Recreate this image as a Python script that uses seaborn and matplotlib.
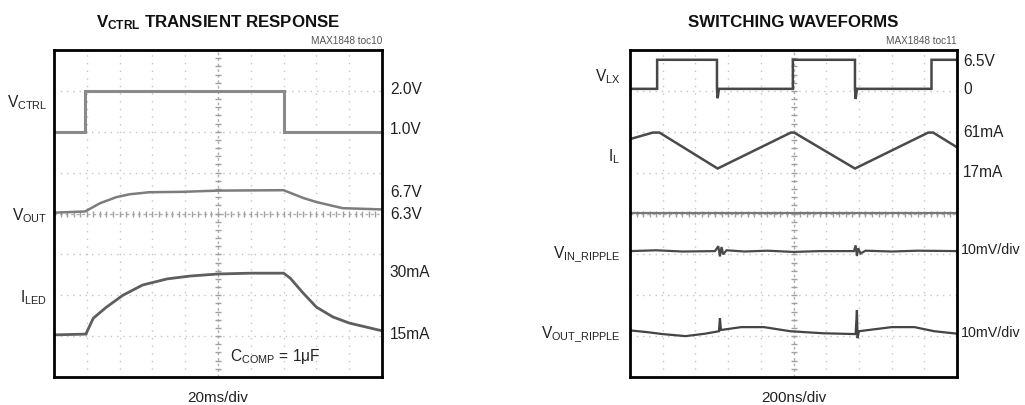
import numpy as np
import matplotlib
matplotlib.use("Agg")
import matplotlib.pyplot as plt
from matplotlib import font_manager
import seaborn as sns
import pandas as pd

# ---------------- data (in scope divisions: x 0..10, y 0..8) ----------------
# Left: VCTRL transient response
vctrl_t = [0, 0.95, 0.95, 7.0, 7.0, 10]
vctrl_v = [6.0, 6.0, 7.0, 7.0, 6.0, 6.0]

vout_t = [0, 0.95, 1.4, 1.9, 2.3, 2.9, 3.9, 5.0, 7.0, 7.6, 8.0, 8.8, 10]
vout_v = [4.02, 4.05, 4.25, 4.40, 4.47, 4.52, 4.53, 4.56, 4.57, 4.38, 4.28, 4.13, 4.10]

iled_t = [0, 0.98, 1.0, 1.2, 1.6, 2.1, 2.7, 3.45, 4.15, 5.0, 6.0, 7.0, 7.2, 7.6, 8.0, 8.5, 9.0, 10]
iled_v = [1.03, 1.05, 1.10, 1.44, 1.71, 2.00, 2.25, 2.40, 2.47, 2.52, 2.54, 2.54, 2.42, 2.05, 1.71, 1.47, 1.32, 1.13]

left_levels = [7.04, 6.06, 4.52, 3.98, 2.56, 1.03]
left_level_labels = ["2.0V", "1.0V", "6.7V", "6.3V", "30mA", "15mA"]

# Right: switching waveforms
vlx_t = [0, 0.83, 0.83, 2.66, 2.66, 2.68, 2.72, 4.98, 4.98, 6.88, 6.88, 6.90, 6.94, 9.22, 9.22, 10]
vlx_v = [7.05, 7.05, 7.76, 7.76, 7.05, 6.82, 7.05, 7.05, 7.76, 7.76, 7.05, 6.80, 7.05, 7.05, 7.76, 7.76]

il_t = [0, 0.7, 0.9, 2.68, 4.92, 5.02, 6.88, 9.12, 9.27, 10]
il_v = [5.82, 5.98, 5.98, 5.10, 5.98, 5.98, 5.10, 5.98, 5.98, 5.62]

ref_t = [0, 10]
ref_v = [4.02, 4.02]

vin_t = [0, 0.8, 1.6, 2.6, 2.7, 2.75, 2.8, 2.85, 2.95, 3.5, 4.2, 5.0, 5.8,
         6.85, 6.9, 6.94, 6.98, 7.05, 7.2, 8.0, 8.8, 10]
vin_v = [3.08, 3.10, 3.07, 3.08, 3.20, 2.95, 3.18, 3.00, 3.10, 3.07, 3.09, 3.06, 3.08,
         3.08, 3.22, 2.96, 3.15, 3.02, 3.09, 3.07, 3.09, 3.08]

voutr_t = [0, 0.5, 1.0, 1.7, 2.3, 2.72, 2.75, 2.78, 3.4, 4.1, 4.9, 5.9,
           6.9, 6.94, 6.96, 7.0, 8.0, 8.7, 9.3, 10]
voutr_v = [1.14, 1.10, 1.05, 1.00, 1.06, 1.12, 1.44, 1.15, 1.22, 1.22, 1.12, 1.07,
           1.05, 1.64, 0.95, 1.12, 1.22, 1.22, 1.12, 1.06]

right_levels = [7.72, 7.04, 5.97, 5.00, 3.10, 1.08]
right_level_labels = ["6.5V", "0", "61mA", "17mA", "10mV/div", "10mV/div"]

# ---------------- style ----------------
sns.set_theme(style="white")
names = {f.name for f in font_manager.fontManager.ttflist}
FAM = "Liberation Sans Narrow" if "Liberation Sans Narrow" in names else "Liberation Sans"
plt.rcParams["font.family"] = [FAM, "DejaVu Sans"]
plt.rcParams["mathtext.fontset"] = "custom"
plt.rcParams["mathtext.rm"] = FAM
plt.rcParams["mathtext.bf"] = FAM + ":bold"
plt.rcParams["mathtext.it"] = FAM + ":italic"

fig = plt.figure(figsize=(10.25, 4.05), dpi=100)
axL = fig.add_axes([54 / 1025, 28 / 405, 328 / 1025, 327 / 405])
axR = fig.add_axes([630 / 1025, 28 / 405, 327 / 1025, 327 / 405])

FS = 11.2
TC = "#222222"


def scope_frame(ax):
    ax.set_xlim(0, 10)
    ax.set_ylim(0, 8)
    ax.set_xticks([])
    ax.set_yticks([])
    for s in ax.spines.values():
        s.set_color("black")
        s.set_linewidth(2.0)
    for x in range(1, 10):
        if x == 5:
            continue
        ax.axvline(x, color="#c4c4c4", lw=1.0, ls=(0, (1, 4.5)), zorder=0)
    for y in range(1, 8):
        if y == 4:
            continue
        ax.axhline(y, color="#c4c4c4", lw=1.0, ls=(0, (1, 3.5)), zorder=0)
    # centre crosshair with minor ticks
    ax.axvline(5, color="#b0b0b0", lw=1.0, ls=(0, (2, 2)), zorder=0)
    ax.axhline(4, color="#b0b0b0", lw=1.0, ls=(0, (2, 2)), zorder=0)
    ys = np.arange(0.2, 8, 0.2)
    xs = np.arange(0.2, 10, 0.2)
    ax.scatter(np.full(ys.size, 5.0), ys, marker="_", s=14, color="#a0a0a0", lw=1, zorder=0)
    ax.scatter(xs, np.full(xs.size, 4.0), marker="|", s=14, color="#a0a0a0", lw=1, zorder=0)


def trace(ax, t, v, color, lw=1.8):
    df = pd.DataFrame({"t": t, "v": v})
    sns.lineplot(data=df, x="t", y="v", ax=ax, estimator=None, sort=False,
                 color=color, lw=lw, solid_joinstyle="miter")
    ax.set_xlabel("")
    ax.set_ylabel("")


# ---------------- left panel ----------------
scope_frame(axL)
trace(axL, vctrl_t, vctrl_v, "#8a8a8a", 2.2)
trace(axL, vout_t, vout_v, "#7c7c7c", 1.8)
trace(axL, iled_t, iled_v, "#5e5e5e", 2.0)
axL.set_xlim(0, 10)
axL.set_ylim(0, 8)

trL = axL.get_yaxis_transform()
for y, lab in zip(left_levels, left_level_labels):
    axL.text(1.024, y, lab, transform=trL, ha="left", va="center", fontsize=FS, color=TC)
axL.text(-0.021, 6.7, r"V$_{\mathrm{CTRL}}$", transform=trL, ha="right", va="center", fontsize=FS, color=TC)
axL.text(-0.021, 3.95, r"V$_{\mathrm{OUT}}$", transform=trL, ha="right", va="center", fontsize=FS, color=TC)
axL.text(-0.021, 1.95, r"I$_{\mathrm{LED}}$", transform=trL, ha="right", va="center", fontsize=FS, color=TC)
axL.text(5.37, 0.5, r"C$_{\mathrm{COMP}}$ = 1$\mathrm{\mu}$F", ha="left", va="center", fontsize=FS, color=TC)
axL.text(0.5, -0.064, "20ms/div", transform=axL.transAxes, ha="center", va="center", fontsize=11, color=TC)
axL.text(0.5, 1.083, r"V$_{\mathbf{CTRL}}$ TRANSIENT RESPONSE", transform=axL.transAxes,
         ha="center", va="center", fontsize=12.2, fontweight="bold", color="#111111")
axL.text(1.0, 1.028, "MAX1848 toc10", transform=axL.transAxes, ha="right", va="center",
         fontsize=7.2, color="#555555")

# ---------------- right panel ----------------
scope_frame(axR)
trace(axR, ref_t, ref_v, "#777777", 1.6)
trace(axR, vlx_t, vlx_v, "#474747", 1.8)
trace(axR, il_t, il_v, "#4a4a4a", 1.8)
trace(axR, vin_t, vin_v, "#4a4a4a", 1.6)
trace(axR, voutr_t, voutr_v, "#444444", 1.6)
axR.set_xlim(0, 10)
axR.set_ylim(0, 8)

trR = axR.get_yaxis_transform()
for y, lab in zip(right_levels, right_level_labels):
    long = len(lab) > 5
    axR.text(1.013 if long else 1.018, y, lab, transform=trR, ha="left", va="center",
             fontsize=10.3 if long else FS, color=TC)
axR.text(-0.03, 7.35, r"V$_{\mathrm{LX}}$", transform=trR, ha="right", va="center", fontsize=FS, color=TC)
axR.text(-0.03, 5.4, r"I$_{\mathrm{L}}$", transform=trR, ha="right", va="center", fontsize=FS, color=TC)
axR.text(-0.03, 3.0, r"V$_{\mathrm{IN\_RIPPLE}}$", transform=trR, ha="right", va="center", fontsize=FS, color=TC)
axR.text(-0.03, 1.05, r"V$_{\mathrm{OUT\_RIPPLE}}$", transform=trR, ha="right", va="center", fontsize=FS, color=TC)
axR.text(0.5, -0.064, "200ns/div", transform=axR.transAxes, ha="center", va="center", fontsize=11, color=TC)
axR.text(0.5, 1.083, "SWITCHING WAVEFORMS", transform=axR.transAxes,
         ha="center", va="center", fontsize=12.2, fontweight="bold", color="#111111")
axR.text(1.0, 1.028, "MAX1848 toc11", transform=axR.transAxes, ha="right", va="center",
         fontsize=7.2, color="#555555")

fig.savefig("out.png", dpi=100)
